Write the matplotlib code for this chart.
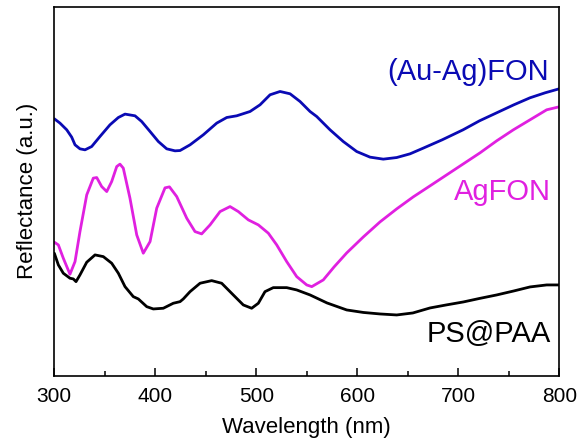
"""Reflectance spectra of PS@PAA, AgFON and (Au-Ag)FON."""

import matplotlib
matplotlib.use("Agg")
import matplotlib.pyplot as plt
from matplotlib.ticker import MultipleLocator, NullLocator

# values (arbitrary units, offset curves)
WL_AUAG = [300, 305.6, 312.3, 317.2, 320.5, 325.4, 330.4, 337, 345.2, 355.1, 363.4, 370,
           379.9, 386.5, 394.8, 403, 411.3, 419.5, 424.5, 434.4, 447.5, 460.8, 470.7,
           480.6, 493.8, 503.7, 513.6, 523.5, 533.4, 543.3, 553.2, 559.8, 573, 586.1,
           599.4, 612.6, 625.7, 639, 652.2, 665.3, 684, 704.7, 721, 738, 755, 771, 786, 800]
R_AUAG = [257, 252.7, 246, 238.7, 231, 227, 226, 229.3, 239.3, 251, 258.3, 261.7,
          260, 254.3, 244.3, 234.3, 227, 225, 225.3, 231, 241, 252.7, 258.3,
          260, 264.3, 271, 281, 284.3, 282, 274.3, 264.3, 259.3, 246, 234.3,
          224.3, 218.7, 216.7, 218.3, 222, 227.7, 236, 246, 255, 263, 271, 278, 283, 287]

WL_AG = [300, 304, 308.9, 315.5, 320.5, 325.4, 332.1, 338.6, 342, 346.9, 351.9, 356.8,
         361.8, 365, 368.3, 374.9, 381.6, 388.1, 394.8, 401.4, 409.6, 414, 421.2, 431.1,
         439.3, 445.9, 454.2, 464.1, 474, 482.2, 492.1, 502, 511.9, 520.2, 530.1, 540,
         549.9, 554.9, 566.3, 577, 589.5, 606, 622.5, 639, 655.4, 672, 688.5, 705, 721.5,
         738, 754.5, 771, 787.5, 800]
R_AG = [133.7, 131, 117.7, 101.7, 114.3, 144.3, 181, 197.7, 198.3, 189.3, 184.3, 194.3,
        209.3, 211.7, 207.7, 177.7, 141, 122.7, 134.3, 167.7, 188, 189, 179.3, 157.7,
        144.3, 142, 151, 164.3, 169.3, 164.3, 156, 151, 142.7, 131, 114.3, 99.3,
        91, 89.3, 96, 109, 123, 139, 154, 167, 179, 190, 201, 212, 223,
        235, 246, 256, 266, 269]

WL_PS = [300, 304, 308.9, 315.5, 318.8, 321.5, 325.4, 332.1, 340.3, 348.5, 356.8, 363.4,
         370, 378.2, 383.2, 391.5, 398, 407.9, 417.8, 424.5, 427.7, 434.4, 444.3, 455.8,
         465.7, 477.2, 487.1, 495.4, 502, 508.6, 516.8, 530.1, 540, 553.2, 570, 589.5,
         606, 622.5, 639, 655, 672, 688, 705, 721, 738, 755, 771, 787.5, 800]
R_PS = [122.7, 111, 102.7, 97.7, 97, 94.3, 101, 113.7, 121, 119.3, 112.7, 102.7,
        89.3, 79.3, 77, 69.3, 67, 67.7, 72.7, 74.3, 77, 84.3, 92.7, 95.3,
        92.7, 81, 71, 67.7, 72.7, 84.3, 88.3, 88.3, 86, 81, 73, 66,
        63.5, 62, 61, 63, 68, 71, 74, 77.5, 81, 85, 89, 91, 91]

BLUE = "#0a0ab4"
MAGENTA = "#e020e0"

plt.rcParams.update({
    "font.family": ["Liberation Sans", "DejaVu Sans"],
})

fig = plt.figure(figsize=(5.79, 4.48), dpi=100)
ax = fig.add_axes([0.0938, 0.1607, 0.8722, 0.8243])

for wl, r, c in ((WL_AUAG, R_AUAG, BLUE), (WL_AG, R_AG, MAGENTA), (WL_PS, R_PS, "black")):
    ax.plot(wl, r, color=c, lw=2.0, solid_joinstyle="round", solid_capstyle="round")

ax.text(790, 304, "(Au-Ag)FON", color=BLUE, fontsize=21, ha="right", va="center")
ax.text(792, 184, "AgFON", color=MAGENTA, fontsize=21, ha="right", va="center")
ax.text(792, 42, "PS@PAA", color="black", fontsize=21, ha="right", va="center")

ax.set_xlim(300, 800)
ax.set_ylim(0, 369)
ax.xaxis.set_major_locator(MultipleLocator(100))
ax.xaxis.set_minor_locator(MultipleLocator(50))
ax.yaxis.set_major_locator(NullLocator())
ax.tick_params(axis="x", which="major", direction="in", length=6, width=1.1,
               labelsize=15, pad=8)
ax.tick_params(axis="x", which="minor", direction="in", length=3.5, width=1.1)
for s in ax.spines.values():
    s.set_linewidth(1.2)

ax.set_xlabel("Wavelength (nm)", fontsize=16, labelpad=8)
ax.set_ylabel("Reflectance (a.u.)", fontsize=16, labelpad=12)

fig.savefig("out.png", dpi=100)
